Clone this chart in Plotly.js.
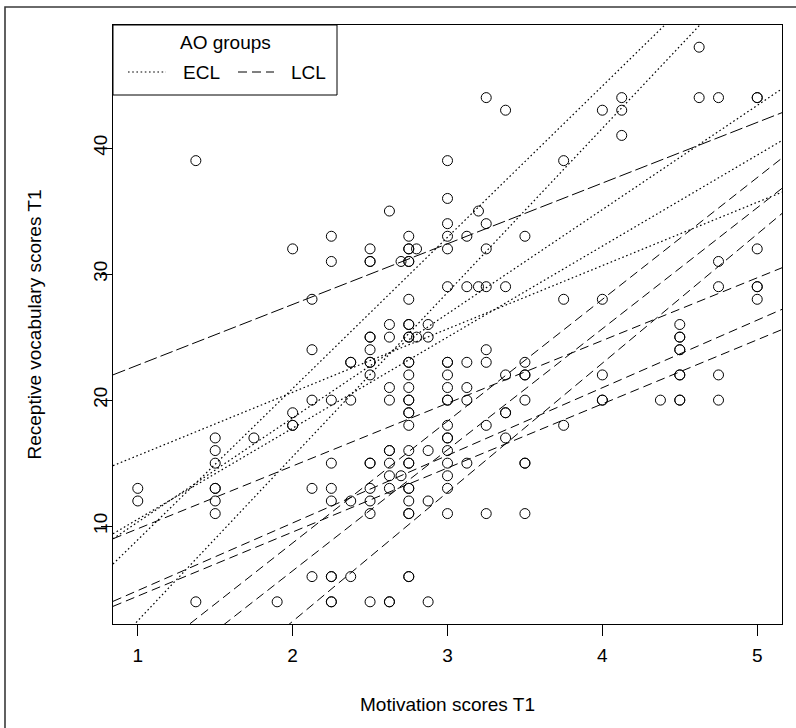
<!DOCTYPE html>
<html><head><meta charset="utf-8">
<script src="https://cdn.plot.ly/plotly-3.0.1.min.js"></script>
<style>html,body{margin:0;padding:0;background:#fff}#chart{width:796px;height:728px}</style>
</head><body><div id="chart"></div>
<script>
// Scatter points: motivation (x) and receptive vocabulary (y), T1
const motivation = [
  1,1,
  1.375,1.375,
  1.5,1.5,1.5,1.5,1.5,1.5,1.5,
  1.75,
  1.9,
  2,2,2,2,
  2.125,2.125,2.125,2.125,2.125,
  2.25,2.25,2.25,2.25,2.25,2.25,2.25,2.25,2.25,2.25,
  2.375,2.375,2.375,2.375,2.375,
  2.5,2.5,2.5,2.5,2.5,2.5,2.5,2.5,2.5,2.5,2.5,2.5,2.5,2.5,2.5,
  2.625,2.625,2.625,2.625,2.625,2.625,2.625,2.625,2.625,2.625,2.625,2.625,
  2.7,2.7,
  2.75,2.75,2.75,2.75,2.75,2.75,2.75,2.75,2.75,2.75,2.75,2.75,2.75,2.75,2.75,2.75,2.75,2.75,2.75,2.75,2.75,2.75,2.75,2.75,2.75,2.75,2.75,2.75,2.75,
  2.8,2.8,
  2.875,2.875,2.875,2.875,2.875,
  3,3,3,3,3,3,3,3,3,3,3,3,3,3,3,3,3,3,3,3,
  3.125,3.125,3.125,3.125,3.125,3.125,
  3.2,3.2,
  3.25,3.25,3.25,3.25,3.25,3.25,3.25,3.25,
  3.375,3.375,3.375,3.375,3.375,3.375,
  3.5,3.5,3.5,3.5,3.5,3.5,3.5,3.5,
  3.75,3.75,3.75,
  4,4,4,4,4,
  4.125,4.125,4.125,
  4.375,
  4.5,4.5,4.5,4.5,4.5,4.5,4.5,4.5,4.5,
  4.625,4.625,
  4.75,4.75,4.75,4.75,4.75,
  5,5,5,5,5,5
];
const vocabulary = [
  13,12,
  39,4,
  17,16,15,13,13,12,11,
  17,
  4,
  32,19,18,18,
  28,24,20,13,6,
  33,31,20,15,13,12,6,6,4,4,
  23,23,20,12,6,
  32,31,31,25,25,24,23,23,22,15,15,13,12,11,4,
  35,26,25,21,20,16,16,15,14,13,4,4,
  31,14,
  33,32,32,31,31,28,26,26,25,25,23,23,22,21,20,20,19,19,18,16,15,15,13,13,12,11,11,6,6,
  32,25,
  26,25,16,12,4,
  39,36,34,33,32,29,23,23,22,21,20,20,18,17,17,16,15,14,13,11,
  33,29,23,21,20,15,
  35,29,
  44,34,32,29,24,23,18,11,
  43,29,22,19,19,17,
  33,23,22,22,20,15,15,11,
  39,28,18,
  43,28,22,20,20,
  44,43,41,
  20,
  26,25,25,24,24,22,22,20,20,
  48,44,
  44,31,29,22,20,
  44,44,32,29,29,28
];

// Fitted lines per AO group (intercept, slope)
const eclIntercepts = [10.58, 2.06, 3.33, -3.08, -10.52];
const eclSlopes     = [5.023, 8.264, 7.222, 12.0, 13.02];
const lclIntercepts = [17.96, 4.82, -0.47, -0.63, -10.66, -12.75, -18.03];
const lclSlopes     = [4.815, 4.977, 5.363, 5.083, 9.663, 9.603, 10.24];

const xTicks = [1, 2, 3, 4, 5];
const yTicks = [10, 20, 30, 40];
const groupNames = ['ECL', 'LCL'];
const xLabel = 'Motivation scores T1';
const yLabel = 'Receptive vocabulary scores T1';
const legendTitle = 'AO groups';

const xRange = [0.84, 5.16];
const yRange = [2.24, 49.76];
const FONT = '"Liberation Sans", Arial, Helvetica, sans-serif';
const FS = 19;
const DOT = '1.6px,2.6px';
const DASH = '9px,5px';

const traces = [];
function addLine(a, b, dash, width, name) {
  traces.push({
    type: 'scatter', mode: 'lines', name: name, showlegend: false, hoverinfo: 'skip',
    x: [xRange[0], xRange[1]],
    y: [a + b * xRange[0], a + b * xRange[1]],
    line: {color: '#000', width: width, dash: dash}
  });
}
eclIntercepts.forEach((a, i) => addLine(a, eclSlopes[i], DOT, 1.2, groupNames[0]));
lclIntercepts.forEach((a, i) => addLine(a, lclSlopes[i], i === 0 ? '13px,4px' : DASH, 1, groupNames[1]));

traces.push({
  type: 'scatter', mode: 'markers', showlegend: false,
  x: motivation, y: vocabulary,
  marker: {symbol: 'circle-open', size: 10, color: '#000', line: {width: 1, color: '#000'}}
});

// pixel -> paper helpers (plot area: x 113..782, y 25..624)
const px = v => (v - 113) / 669;
const py = v => (624 - v) / 599;

const shapes = [
  {type: 'rect', xref: 'paper', yref: 'paper', x0: px(5), x1: px(812), y0: py(745), y1: py(7),
   line: {color: '#3a3a3a', width: 1.6}, fillcolor: 'rgba(0,0,0,0)', layer: 'below'},
  {type: 'rect', xref: 'paper', yref: 'paper', x0: 0, x1: px(337), y0: py(95), y1: 1,
   line: {color: '#000', width: 1}, fillcolor: '#fff', layer: 'above'},
  {type: 'line', xref: 'paper', yref: 'paper', x0: px(128), x1: px(166), y0: py(72), y1: py(72),
   line: {color: '#000', width: 1.2, dash: DOT}, layer: 'above'},
  {type: 'line', xref: 'paper', yref: 'paper', x0: px(238), x1: px(274), y0: py(72), y1: py(72),
   line: {color: '#000', width: 1, dash: DASH}, layer: 'above'}
];
const annFont = {family: FONT, size: FS, color: '#000'};
const annotations = [
  {xref: 'paper', yref: 'paper', x: px(225), y: py(43), text: legendTitle, showarrow: false, font: annFont, xanchor: 'center', yanchor: 'middle'},
  {xref: 'paper', yref: 'paper', x: px(201), y: py(72), text: groupNames[0], showarrow: false, font: annFont, xanchor: 'center', yanchor: 'middle'},
  {xref: 'paper', yref: 'paper', x: px(308), y: py(72), text: groupNames[1], showarrow: false, font: annFont, xanchor: 'center', yanchor: 'middle'}
];

const axisCommon = {
  showgrid: false, zeroline: false, showline: true, mirror: true,
  linecolor: '#000', linewidth: 1, ticks: 'outside', ticklen: 11, tickwidth: 1, tickcolor: '#000',
  tickfont: {family: FONT, size: FS, color: '#000'}, automargin: false
};
const layout = {
  width: 796, height: 728,
  margin: {l: 113, r: 14, t: 25, b: 104},
  paper_bgcolor: '#fff', plot_bgcolor: '#fff',
  showlegend: false,
  font: {family: FONT, size: FS, color: '#000'},
  xaxis: Object.assign({}, axisCommon, {
    range: xRange, tickvals: xTicks, ticktext: xTicks.map(String), ticklabelstandoff: 3,
    title: {text: xLabel, font: {family: FONT, size: FS, color: '#000'}, standoff: 32}
  }),
  yaxis: Object.assign({}, axisCommon, {
    range: yRange, tickvals: yTicks, ticktext: yTicks.map(String), tickangle: -90, ticklabelstandoff: -14,
    title: {text: yLabel, font: {family: FONT, size: FS, color: '#000'}, standoff: 43}
  }),
  shapes: shapes,
  annotations: annotations
};
Plotly.newPlot('chart', traces, layout, {staticPlot: true, displayModeBar: false});
</script>
</body></html>
